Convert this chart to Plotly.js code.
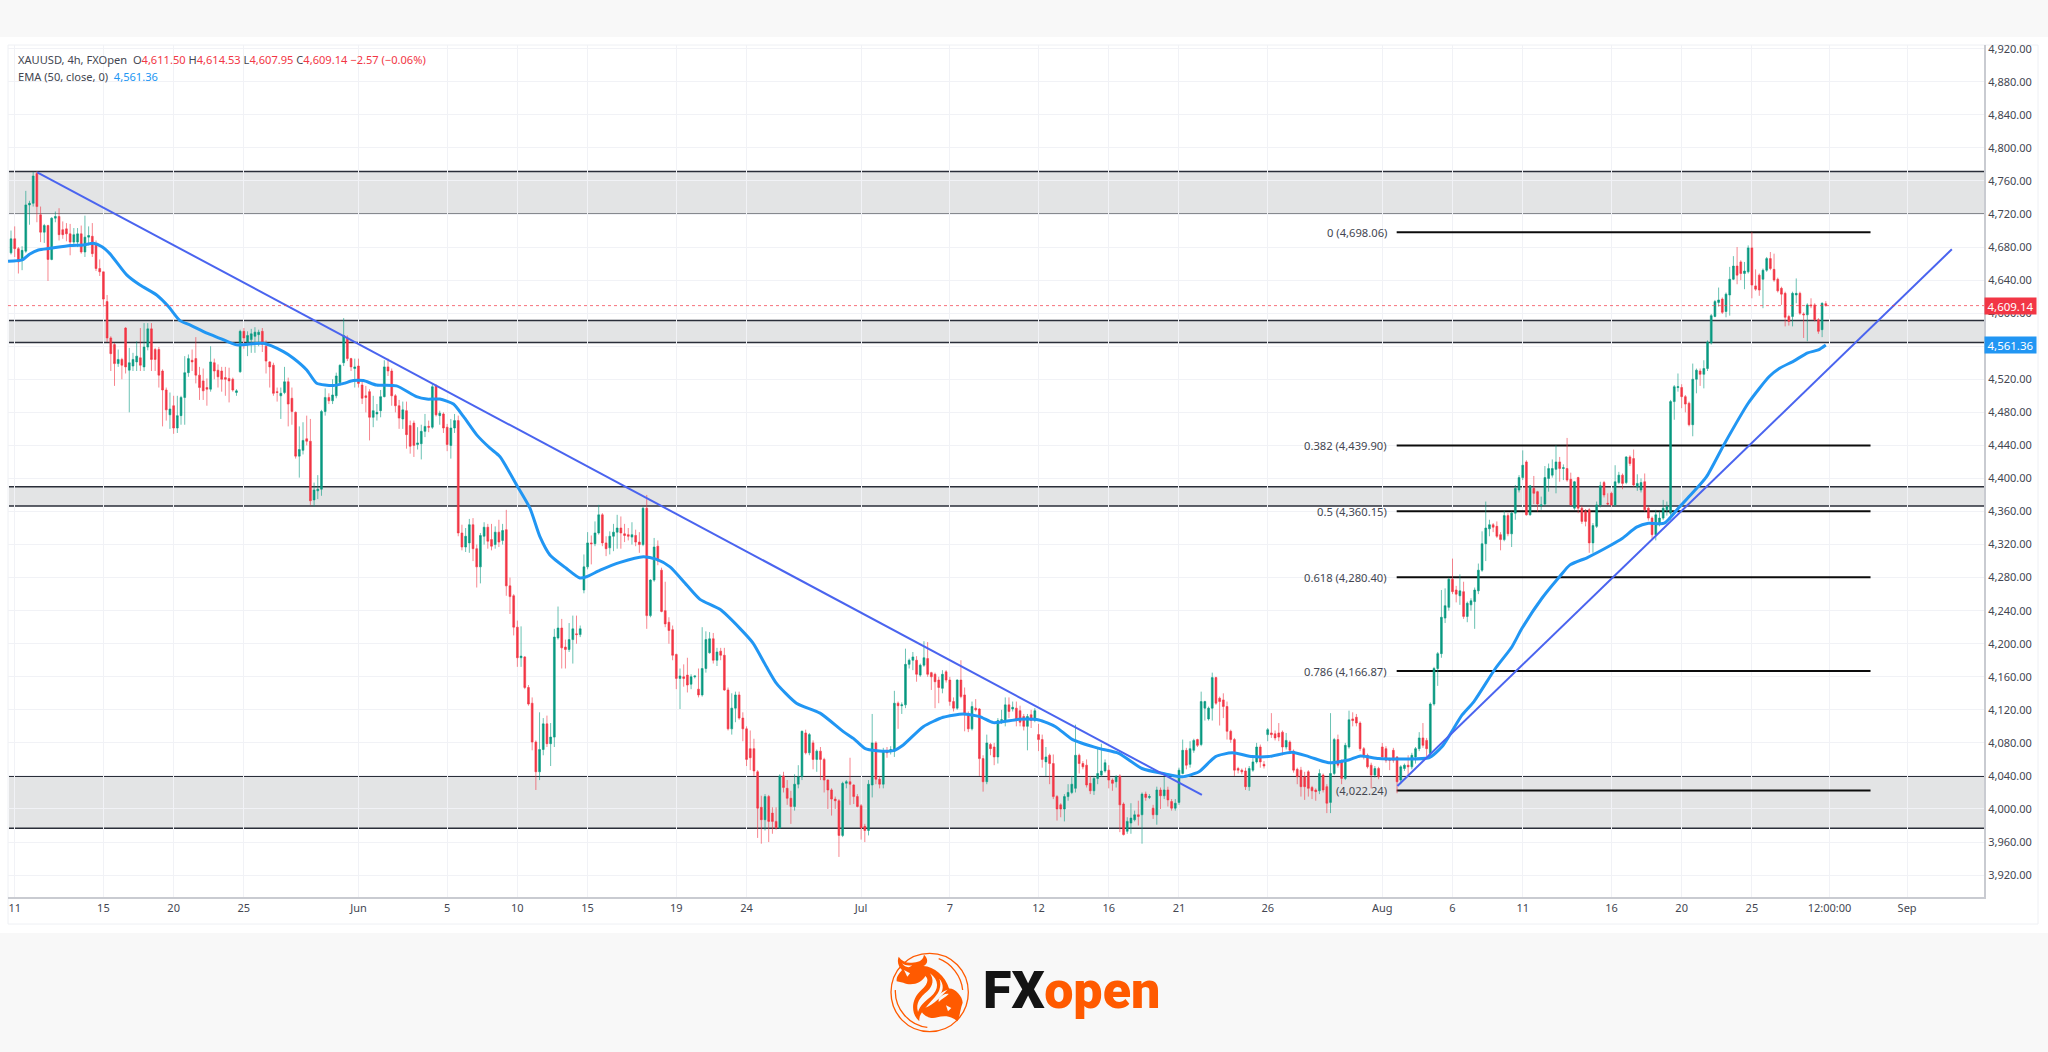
<!DOCTYPE html>
<html>
<head>
<meta charset="utf-8">
<script src="https://cdn.plot.ly/plotly-3.0.1.min.js"></script>
<style>html,body{margin:0;padding:0;background:#f8f8f8}#chart{width:2048px;height:1052px}</style>
</head>
<body>
<div id="chart"></div>
<script>
// Candles, 4h bars, first bar is index -1
const openP = [
4673,4690,4678,4664,4675,4731,4733,4769,4719,4698,
4706,4665,4715,4717,4701,4702,4696,4686,4686,4696,
4674,4692,4693,4684,4654,4650,4614,4570,4562,4539,
4544,4582,4531,4536,4541,4546,4535,4559,4581,4556,
4556,4530,4507,4477,4488,4461,4476,4498,4528,4543,
4545,4525,4518,4510,4508,4540,4531,4530,4522,4521,
4520,4504,4529,4578,4565,4568,4572,4574,4578,4560,
4541,4537,4505,4500,4504,4517,4497,4480,4427,4434,
4448,4445,4374,4385,4387,4481,4498,4494,4500,4516,
4540,4570,4545,4533,4536,4513,4500,4505,4474,4478,
4482,4499,4535,4530,4500,4488,4472,4482,4464,4467,
4441,4442,4457,4463,4462,4512,4476,4478,4462,4440,
4461,4470,4334,4317,4322,4344,4315,4293,4330,4341,
4326,4320,4335,4325,4338,4270,4258,4220,4183,4184,
4147,4128,4081,4045,4072,4103,4079,4087,4207,4219,
4196,4193,4205,4212,4211,4265,4293,4322,4321,4334,
4356,4322,4316,4330,4335,4340,4333,4332,4329,4331,
4323,4320,4364,4234,4277,4318,4289,4240,4226,4217,
4187,4158,4160,4162,4151,4160,4145,4138,4170,4189,
4206,4180,4191,4186,4144,4097,4122,4138,4110,4097,
4073,4073,4045,4002,3987,4015,3995,3985,3977,4040,
4025,4013,4003,4030,4039,4092,4068,4080,4060,4070,
4060,4035,4023,4012,4010,3968,4031,4033,4029,4015,
4004,3979,3974,4029,4080,4036,4030,4070,4070,4070,
4128,4125,4126,4175,4180,4180,4162,4174,4182,4165,
4163,4156,4146,4166,4156,4130,4122,4156,4138,4114,
4097,4122,4121,4061,4033,4078,4075,4063,4107,4106,
4126,4121,4122,4119,4112,4100,4114,4107,4090,4084,
4057,4065,4055,4015,4005,4000,4015,4020,4025,4065,
4055,4053,4031,4022,4037,4041,4046,4047,4035,4033,
4040,4006,3973,3983,3987,3993,3993,4018,4014,4001,
3993,4023,4016,4023,4009,4001,4008,4043,4071,4054,
4071,4084,4078,4122,4109,4122,4159,4134,4132,4124,
4094,4084,4049,4047,4046,4027,4047,4057,4075,4054,
4090,4092,4091,4092,4093,4075,4081,4070,4048,4047,
4039,4045,4026,4023,4022,4041,4027,4008,4043,4084,
4057,4037,4075,4109,4111,4104,4073,4065,4053,4041,
4049,4075,4073,4060,4071,4063,4035,4049,4053,4051,
4063,4073,4086,4083,4067,4127,4170,4188,4231,4244,
4278,4265,4258,4263,4233,4247,4251,4264,4289,4321,
4339,4344,4342,4332,4326,4355,4333,4358,4386,4401,
4420,4356,4388,4384,4367,4369,4400,4404,4411,4420,
4412,4412,4399,4364,4401,4364,4360,4362,4322,4342,
4368,4395,4370,4382,4368,4395,4404,4395,4426,4424,
4390,4386,4396,4364,4352,4332,4344,4352,4362,4358,
4493,4510,4510,4499,4491,4465,4520,4530,4526,4533,
4564,4596,4613,4617,4602,4622,4641,4657,4662,4648,
4650,4679,4633,4646,4641,4652,4666,4653,4641,4630,
4624,4596,4596,4622,4624,4599,4598,4610,4610,4592,
4580,4611.50];
const highP = [
4700,4705,4680,4681,4748,4736,4771,4772,4729,4708,
4707,4716,4723,4727,4711,4709,4708,4703,4703,4706,
4718,4705,4709,4688,4665,4650,4622,4572,4564,4556,
4546,4583,4558,4552,4566,4582,4588,4588,4588,4558,
4559,4532,4510,4504,4500,4500,4500,4548,4550,4556,
4571,4535,4533,4521,4560,4545,4538,4535,4535,4534,
4522,4508,4580,4582,4578,4581,4583,4580,4582,4567,
4542,4540,4510,4510,4535,4522,4510,4481,4463,4468,
4476,4472,4395,4404,4483,4509,4503,4520,4528,4538,
4594,4573,4546,4545,4545,4517,4512,4508,4500,4490,
4507,4543,4545,4533,4502,4495,4493,4493,4470,4470,
4462,4465,4478,4470,4514,4514,4482,4480,4466,4472,
4478,4476,4344,4340,4351,4352,4320,4334,4347,4345,
4345,4342,4350,4345,4362,4280,4260,4228,4221,4185,
4150,4135,4083,4117,4110,4113,4104,4218,4245,4230,
4205,4225,4234,4234,4222,4308,4335,4331,4348,4368,
4358,4330,4336,4345,4356,4354,4345,4340,4347,4338,
4335,4366,4380,4278,4328,4325,4292,4275,4232,4222,
4188,4170,4175,4183,4163,4161,4170,4220,4215,4214,
4213,4195,4195,4195,4147,4140,4142,4142,4117,4100,
4095,4085,4047,4016,4018,4017,4002,4002,4042,4045,
4035,4022,4042,4053,4095,4096,4092,4083,4072,4075,
4062,4036,4025,4015,4012,4033,4035,4062,4030,4018,
4006,3982,4035,4115,4082,4040,4074,4075,4076,4143,
4130,4129,4194,4182,4190,4185,4176,4203,4202,4166,
4165,4160,4168,4168,4160,4135,4157,4180,4147,4118,
4130,4133,4122,4065,4090,4080,4080,4110,4120,4135,
4135,4130,4130,4125,4115,4115,4120,4122,4103,4090,
4075,4067,4066,4017,4007,4018,4030,4040,4102,4067,
4058,4060,4040,4040,4073,4079,4060,4053,4037,4041,
4042,4008,3990,4007,3998,4010,4020,4021,4018,4005,
4027,4026,4039,4027,4012,4012,4050,4084,4074,4082,
4085,4085,4142,4131,4124,4165,4160,4136,4140,4130,
4096,4086,4051,4049,4050,4052,4063,4080,4078,4058,
4098,4116,4095,4104,4095,4092,4083,4072,4050,4051,
4045,4047,4028,4025,4048,4043,4030,4116,4086,4090,
4060,4080,4119,4117,4115,4106,4075,4067,4056,4052,
4051,4080,4076,4062,4074,4064,4053,4055,4065,4068,
4075,4093,4104,4086,4129,4172,4190,4265,4267,4280,
4303,4270,4284,4275,4251,4255,4268,4297,4336,4372,
4350,4346,4348,4335,4361,4358,4360,4392,4404,4434,
4422,4392,4403,4385,4378,4415,4418,4423,4440,4426,
4417,4449,4407,4397,4402,4367,4363,4364,4346,4372,
4396,4397,4382,4384,4416,4408,4406,4427,4428,4435,
4405,4400,4406,4366,4354,4362,4360,4374,4372,4495,
4513,4527,4514,4501,4493,4539,4533,4533,4543,4567,
4599,4616,4631,4619,4625,4656,4669,4680,4664,4662,
4682,4698,4653,4648,4654,4668,4674,4672,4643,4632,
4626,4598,4626,4642,4626,4601,4612,4618,4612,4594,
4613,4614.53];
const lowP = [
4671,4668,4648,4652,4673,4707,4729,4710,4686,4685,
4639,4664,4710,4688,4690,4687,4670,4683,4680,4672,
4668,4682,4668,4651,4645,4608,4565,4530,4512,4535,
4520,4527,4480,4530,4530,4530,4530,4555,4530,4530,
4510,4463,4470,4460,4454,4455,4465,4465,4523,4530,
4515,4495,4495,4488,4505,4520,4510,4505,4500,4492,
4505,4500,4528,4557,4548,4552,4552,4560,4553,4527,
4510,4500,4493,4472,4502,4463,4465,4424,4401,4429,
4440,4368,4366,4375,4379,4476,4490,4490,4497,4512,
4536,4542,4530,4510,4510,4490,4480,4446,4462,4470,
4474,4498,4524,4488,4480,4460,4460,4436,4430,4426,
4435,4423,4450,4456,4460,4475,4465,4455,4433,4424,
4455,4330,4313,4311,4310,4300,4268,4273,4320,4315,
4313,4315,4317,4320,4258,4236,4210,4172,4172,4145,
4125,4071,4023,4035,4065,4075,4052,4075,4205,4170,
4170,4190,4176,4200,4208,4261,4290,4296,4318,4332,
4318,4306,4308,4312,4315,4315,4323,4325,4320,4318,
4310,4318,4218,4232,4275,4295,4238,4220,4200,4180,
4145,4121,4148,4141,4145,4158,4135,4136,4165,4188,
4176,4173,4180,4143,4095,4090,4105,4108,4082,4052,
4047,4040,3965,3958,3974,3960,3970,3975,3976,4020,
4005,3982,3998,4025,4035,4066,4065,4048,4045,4035,
4020,4000,3992,4000,3942,3966,4025,4005,4006,4002,
3963,3960,3968,4014,4030,4025,4025,4062,4066,4063,
4097,4115,4122,4170,4168,4154,4160,4172,4160,4144,
4122,4128,4140,4153,4125,4118,4120,4134,4094,4093,
4095,4118,4040,4021,4030,4065,4053,4055,4103,4100,
4110,4118,4100,4100,4095,4071,4098,4105,4070,4050,
4040,4030,4012,3986,3990,3985,4010,4018,4020,4043,
4048,4026,4018,4017,4030,4039,4044,4025,4022,4026,
3972,3968,3970,3970,3985,3980,3958,4010,4012,3988,
3981,4000,4012,4003,3998,3998,4005,4042,4048,4050,
4068,4075,4076,4107,4107,4107,4126,4101,4110,4084,
4080,4040,4043,4042,4023,4022,4045,4055,4050,4049,
4082,4086,4083,4082,4065,4072,4068,4044,4030,4015,
4011,4015,4012,4010,4018,4020,3995,3995,4041,4050,
4030,4035,4073,4100,4100,4070,4060,4049,4025,4038,
4036,4060,4056,4047,4056,4019,4030,4046,4040,4048,
4055,4070,4074,4064,4065,4125,4149,4183,4225,4240,
4260,4250,4247,4230,4226,4240,4218,4260,4287,4300,
4330,4335,4328,4313,4324,4330,4317,4350,4383,4398,
4355,4355,4369,4360,4362,4367,4384,4401,4382,4396,
4398,4396,4367,4362,4358,4345,4342,4310,4310,4340,
4365,4377,4368,4366,4366,4393,4387,4393,4415,4390,
4385,4383,4360,4349,4327,4325,4342,4350,4355,4350,
4471,4505,4485,4480,4463,4451,4503,4512,4509,4530,
4562,4595,4608,4599,4595,4597,4640,4635,4640,4629,
4648,4618,4627,4621,4606,4650,4652,4638,4625,4610,
4584,4585,4584,4612,4598,4570,4566,4606,4590,4575,
4571,4607.95];
const closeP = [
4690,4678,4662,4676,4731,4733,4766,4729,4698,4706,
4665,4715,4717,4695,4695,4696,4686,4695,4696,4674,
4692,4694,4672,4654,4650,4617,4570,4551,4539,4544,
4537,4535,4540,4544,4548,4537,4559,4581,4544,4544,
4525,4507,4483,4484,4461,4476,4498,4528,4545,4541,
4525,4510,4506,4508,4541,4530,4523,4520,4520,4518,
4507,4506,4578,4570,4573,4575,4577,4577,4562,4542,
4535,4503,4504,4503,4517,4490,4481,4427,4435,4446,
4445,4373,4386,4387,4481,4498,4494,4501,4524,4537,
4573,4545,4535,4535,4515,4497,4498,4474,4482,4480,
4499,4535,4530,4500,4488,4473,4483,4453,4439,4440,
4443,4457,4463,4462,4511,4477,4479,4461,4441,4461,
4470,4334,4317,4330,4344,4315,4293,4331,4341,4324,
4318,4335,4323,4337,4270,4257,4220,4183,4185,4147,
4127,4081,4045,4072,4103,4079,4087,4208,4219,4195,
4193,4205,4218,4211,4218,4293,4322,4321,4334,4356,
4322,4315,4330,4335,4340,4334,4331,4330,4332,4323,
4320,4364,4234,4277,4317,4300,4239,4224,4216,4186,
4158,4161,4158,4150,4160,4161,4138,4170,4205,4206,
4180,4190,4186,4144,4097,4122,4138,4110,4097,4060,
4062,4046,4001,3987,4015,3985,3985,3977,4040,4026,
4013,4003,4030,4039,4094,4068,4090,4060,4070,4060,
4035,4023,4012,4010,3968,4031,4033,4030,4015,4003,
3977,3974,4030,4080,4036,4030,4070,4068,4072,4128,
4125,4126,4175,4180,4184,4163,4174,4183,4163,4160,
4154,4147,4163,4156,4130,4122,4156,4136,4114,4097,
4124,4120,4061,4033,4080,4073,4063,4107,4108,4126,
4118,4123,4108,4105,4100,4112,4107,4119,4084,4060,
4063,4055,4015,4000,4000,4015,4020,4030,4065,4055,
4051,4029,4022,4037,4043,4046,4056,4035,4031,4039,
4005,3969,3985,3989,3993,3991,4018,4014,4015,3993,
4023,4016,4023,4011,4001,4007,4047,4071,4053,4073,
4083,4077,4130,4130,4122,4159,4128,4130,4124,4094,
4084,4047,4047,4045,4027,4049,4057,4075,4057,4052,
4096,4090,4086,4087,4075,4083,4071,4047,4039,4027,
4027,4025,4022,4021,4043,4023,4007,4043,4084,4053,
4037,4077,4108,4107,4104,4073,4063,4051,4041,4049,
4039,4063,4059,4059,4059,4033,4051,4053,4051,4065,
4073,4086,4077,4073,4127,4170,4188,4232,4246,4278,
4263,4260,4264,4233,4249,4252,4265,4289,4321,4340,
4344,4341,4330,4326,4355,4333,4358,4388,4401,4416,
4356,4391,4382,4369,4368,4401,4412,4412,4420,4412,
4413,4398,4368,4396,4364,4348,4348,4322,4343,4368,
4391,4380,4369,4368,4396,4404,4394,4426,4418,4392,
4394,4395,4362,4352,4332,4356,4352,4364,4366,4493,
4511,4511,4499,4490,4465,4520,4531,4526,4533,4565,
4597,4614,4616,4601,4623,4641,4657,4646,4648,4651,
4679,4634,4629,4628,4652,4666,4654,4640,4627,4623,
4595,4590,4624,4624,4600,4598,4610,4609,4592,4578,
4612,4609.14];

// EMA(50) readings: bar index and value
const emaBar = [-1.8,2,4.1,6.4,9.6,15,18.6,21.3,23.5,25.8,30.3,33.9,38.4,41.6,44.7,47.4,52,55.5,60,67.3,72.7,75.4,79,81.7,86.2,89,91.6,94.3,97.9,103.3,108.7,111.5,115,118.7,121.4,125,128.6,131.3,135.8,139.4,142.1,144.8,149.3,152.9,154.7,158.4,163.8,170.1,173.7,177.3,181.8,185.4,190.8,196.2,199.8,203.4,206.1,211.5,217.9,224.2,226.9,230,233.2,237.7,240.4,245.8,251.2,256.6,261.1,264.8,271.7,277.1,281.6,286.1,293.3,298.7,305,311.3,315.9,320.4,324.9,329.4,334.8,339.3,345.6,350.1,355.5,360.9,364.1,369,375.4,382.6,386.2,391.6,394.8,400.6,405.1,407.8,413.2,418,420.8,425.5,431.2,435,438.8,442,446.3,450.1,453.4,457.7,462.4,469,474.7,477.5,481.3,485.1,488,490];
const emaValue = [4662.8,4664.4,4671.7,4676.5,4678.5,4682,4682.6,4684.6,4680.6,4671.7,4646.3,4634,4622,4608,4591,4585.8,4575.7,4569.6,4561.6,4563.6,4553.5,4545.5,4531.3,4515.2,4512.4,4515,4518.4,4518.4,4513,4512,4499,4496,4496,4490,4475,4452.7,4436.6,4426.3,4392,4364,4329.5,4307.4,4291,4279.5,4281,4289,4298.5,4305.3,4302,4293,4271,4253.7,4241.6,4218.6,4200.5,4172,4152,4128,4116,4093.6,4085.5,4073.4,4070.6,4070.6,4077.5,4099.6,4111,4115,4111.8,4104.5,4108.5,4107.7,4099.6,4084.3,4073.4,4067.4,4049,4042.4,4039,4045,4063.4,4068,4063.4,4063.4,4068.6,4063.4,4056,4059.3,4064.2,4061,4060.5,4062,4075.5,4113.8,4130,4170,4196.4,4218.6,4255,4281.3,4295.4,4304.3,4317.6,4327.6,4341,4345.8,4345.8,4364,4380,4402,4440.6,4491,4523.3,4533.3,4542,4552,4555.5,4561.36];

// Drawn trend lines (bar index, price)
const downTrendBars = [6.1,321.2];
const downTrendPrices = [4770.5,4017];
const upTrendBars = [374.1,524.1];
const upTrendPrices = [4027.9,4677.3];

// Horizontal zones [top,bottom]
const zoneTops = [4771.5,4591,4390,4039.6];
const zoneBottoms = [4719.7,4564.4,4366.7,3976.7];

// Fibonacci levels
const fibLabels = ['0 (4,698.06)','0.382 (4,439.90)','0.5 (4,360.15)','0.618 (4,280.40)','0.786 (4,166.87)','(4,022.24)'];
const fibValues = [4698.06,4439.90,4360.15,4280.40,4166.87,4022.24];
const fibStartBar = 373.9;
const fibEndBar = 502.1;

// Axes
const xTickBars = [0,24,43,62,93,117,136,155,179,198,229,253,277,296,315,339,370,389,408,432,451,470,491,512];
const xTickText = ['11','15','20','25','Jun','5','10','15','19','24','Jul','7','12','16','21','26','Aug','6','11','16','20','25','12:00:00','Sep'];
const yTicks = [3920,3960,4000,4040,4080,4120,4160,4200,4240,4280,4320,4360,4400,4440,4480,4520,4560,4600,4640,4680,4720,4760,4800,4840,4880,4920];

const lastClose = 4609.14;
const lastEma = 4561.36;

const bars = openP.map((_, k) => k - 1);
const font = 'Noto Sans, sans-serif';
const RED = '#f23645', GREEN = '#089981', EMA = '#2196f3', TREND = '#4a64ef';

// page-pixel helpers for page furniture only (panel, logo)
const L = 8, R = 1984, T = 45, B = 897;
const px = x => (x - L) / (R - L);
const py = y => (B - y) / (B - T);
function logoPath(d) { // d uses logo-crop coordinates
  return d.replace(/(-?[\d.]+),(-?[\d.]+)/g, (m, a, b) => (px(880 + a / 3)).toFixed(5) + ',' + (py(940 + b / 3)).toFixed(5));
}
const paperShape = (o) => Object.assign({xref: 'paper', yref: 'paper', layer: 'below'}, o);

const shapes = [
  paperShape({type: 'rect', x0: px(0), x1: px(2048), y0: py(933), y1: py(37), fillcolor: '#ffffff', line: {width: 0}}),
  paperShape({type: 'rect', x0: px(8), x1: px(2038), y0: py(924), y1: py(45), line: {color: '#eef0f4', width: 1}}),
];
zoneTops.forEach((top, k) => {
  shapes.push({type: 'rect', xref: 'paper', yref: 'y', x0: 0.0005, x1: 1, y0: zoneBottoms[k], y1: top,
    fillcolor: 'rgba(42,46,57,0.13)', line: {width: 0}, layer: 'between'});
  [top, zoneBottoms[k]].forEach(v => shapes.push({type: 'line', xref: 'paper', yref: 'y', x0: 0.0005, x1: 1, y0: v, y1: v,
    line: {color: '#2a2e39', width: 1.5}, layer: 'between'}));
});
fibValues.forEach(v => shapes.push({type: 'line', xref: 'x', yref: 'y', x0: fibStartBar, x1: fibEndBar, y0: v, y1: v,
  line: {color: '#0c0c0c', width: 2}, layer: 'between'}));
shapes.push({type: 'line', xref: 'paper', yref: 'y', x0: 0, x1: 1, y0: lastClose, y1: lastClose,
  line: {color: 'rgba(242,54,69,0.7)', width: 1, dash: 'dot'}, layer: 'above'});

// logo mark
const ORANGE = '#ff5a00';
const PAGE = '#f8f8f8';
const logoFill = d => shapes.push(paperShape({type: 'path', path: logoPath(d), line: {width: 0}, fillcolor: ORANGE}));
const logoCut = d => shapes.push(paperShape({type: 'path', path: logoPath(d), line: {width: 0}, fillcolor: PAGE}));
shapes.push(paperShape({type: 'path', path: logoPath('M149,40 C215,40 265,92 265,157 C265,222 215,275 149,275 C83,275 33,222 33,157 C33,92 83,40 149,40 Z'), line: {color: ORANGE, width: 1.3}, fillcolor: 'rgba(0,0,0,0)'}));
shapes.push(paperShape({type: 'path', path: logoPath('M46,150 C44,205 86,256 142,262'), line: {color: ORANGE, width: 1.3}, fillcolor: 'rgba(0,0,0,0)'}));
shapes.push(paperShape({type: 'path', path: logoPath('M176,56 C214,70 244,108 248,150'), line: {color: ORANGE, width: 1.3}, fillcolor: 'rgba(0,0,0,0)'}));
logoFill('M50,124 C48,110 58,100 66,90 C56,80 50,66 56,50 C66,64 80,70 96,68 C112,66 128,66 132,44 C146,56 144,72 130,78 C162,80 196,106 208,148 C190,152 165,170 148,190 C128,214 116,226 118,244 C92,222 92,178 124,150 C142,134 148,118 136,108 C126,128 96,140 70,128 Z');
logoFill('M205,146 C222,142 248,168 248,188 C240,208 240,232 232,244 C214,226 190,226 172,232 C150,240 126,226 120,205 C146,208 178,176 205,146 Z');
logoCut('M150,100 C178,120 178,150 152,170 C134,184 120,196 114,216 C106,190 120,172 142,154 C160,138 162,118 150,100 Z');
logoCut('M178,116 C192,132 192,152 176,168 C168,176 160,182 152,190 C158,176 172,166 178,150 C182,138 182,126 178,116 Z');
logoCut('M72,90 L90,100 L82,110 Z');
logoCut('M66,70 C74,76 84,78 96,76 C90,84 76,84 66,70 Z');
logoCut('M176,176 C186,166 196,160 206,162 C196,172 186,176 176,186 Z');
logoCut('M198,196 L214,204 L204,214 Z');

const traces = [
  {type: 'candlestick', x: bars, open: openP, high: highP, low: lowP, close: closeP,
   whiskerwidth: 0, hoverinfo: 'skip', showlegend: false,
   increasing: {line: {color: 'rgba(8,153,129,0.6)', width: 1}, fillcolor: GREEN},
   decreasing: {line: {color: 'rgba(242,54,69,0.6)', width: 1}, fillcolor: RED}},
  {type: 'scatter', mode: 'lines', x: emaBar, y: emaValue, hoverinfo: 'skip', showlegend: false,
   line: {color: EMA, width: 3, shape: 'spline', smoothing: 0.6}},
  {type: 'scatter', mode: 'lines', x: downTrendBars, y: downTrendPrices, hoverinfo: 'skip', showlegend: false,
   line: {color: TREND, width: 2}},
  {type: 'scatter', mode: 'lines', x: upTrendBars, y: upTrendPrices, hoverinfo: 'skip', showlegend: false,
   line: {color: TREND, width: 2}},
];

const TXT = '#434651';
const annotations = fibLabels.map((t, k) => ({
  xref: 'x', yref: 'y', x: fibStartBar - 2, y: fibValues[k], text: t, showarrow: false,
  xanchor: 'right', yanchor: 'middle', font: {family: font, size: 11.2, color: TXT}
}));
const redSpan = s => '<span style="color:' + RED + '">' + s + '</span>';
annotations.push({xref: 'paper', yref: 'paper', x: px(16), y: py(60), xanchor: 'left', yanchor: 'middle', showarrow: false,
  font: {family: font, size: 11.1, color: TXT}, align: 'left',
  text: 'XAUUSD, 4h, FXOpen  O' + redSpan('4,611.50') + ' H' + redSpan('4,614.53') + ' L' + redSpan('4,607.95') + ' C' + redSpan('4,609.14') + ' ' + redSpan('−2.57 (−0.06%)')});
annotations.push({xref: 'paper', yref: 'paper', x: px(16), y: py(77), xanchor: 'left', yanchor: 'middle', showarrow: false,
  font: {family: font, size: 11.1, color: TXT}, align: 'left',
  text: 'EMA (50, close, 0)  <span style="color:' + EMA + '">4,561.36</span>'});
[[lastClose, RED, '4,609.14'], [lastEma, EMA, '4,561.36']].forEach(([v, c, t]) => annotations.push({
  xref: 'paper', yref: 'y', x: 1, y: v, xanchor: 'left', yanchor: 'middle', showarrow: false, width: 51, height: 16, borderpad: 0,
  bgcolor: c, text: t, font: {family: font, size: 11.5, color: '#ffffff'}, align: 'center'}));
annotations.push({xref: 'paper', yref: 'paper', x: px(981), y: py(991), xanchor: 'left', yanchor: 'middle', showarrow: false,
  font: {family: 'Roboto, sans-serif', size: 52, color: '#141414', weight: 900},
  text: 'FX<span style="color:' + ORANGE + '">open</span>'});

const layout = {
  width: 2048, height: 1052, autosize: false,
  paper_bgcolor: '#f8f8f8', plot_bgcolor: 'rgba(0,0,0,0)',
  margin: {l: L, r: 2048 - R, t: T, b: 1052 - B, pad: 0},
  showlegend: false,
  font: {family: font, size: 11, color: TXT},
  xaxis: {type: 'linear', range: [-1.813, 532.8], tickmode: 'array', tickvals: xTickBars, ticktext: xTickText,
    showgrid: true, gridcolor: '#f1f2f6', gridwidth: 1, zeroline: false, ticks: '', showline: true, linecolor: '#c9cbd1', linewidth: 2,
    rangeslider: {visible: false}, tickfont: {family: font, size: 11, color: TXT}, fixedrange: true, tickangle: 0},
  yaxis: {type: 'linear', side: 'right', range: [3893.5, 4924.5], tickmode: 'array', tickvals: yTicks, tickformat: ',.2f',
    showgrid: true, gridcolor: '#f1f2f6', gridwidth: 1, zeroline: false, ticks: '', showline: true, linecolor: '#c9cbd1', linewidth: 2,
    tickfont: {family: font, size: 11, color: TXT}, fixedrange: true},
  shapes, annotations
};
Plotly.newPlot('chart', traces, layout, {staticPlot: true, displayModeBar: false});
</script>
</body>
</html>
